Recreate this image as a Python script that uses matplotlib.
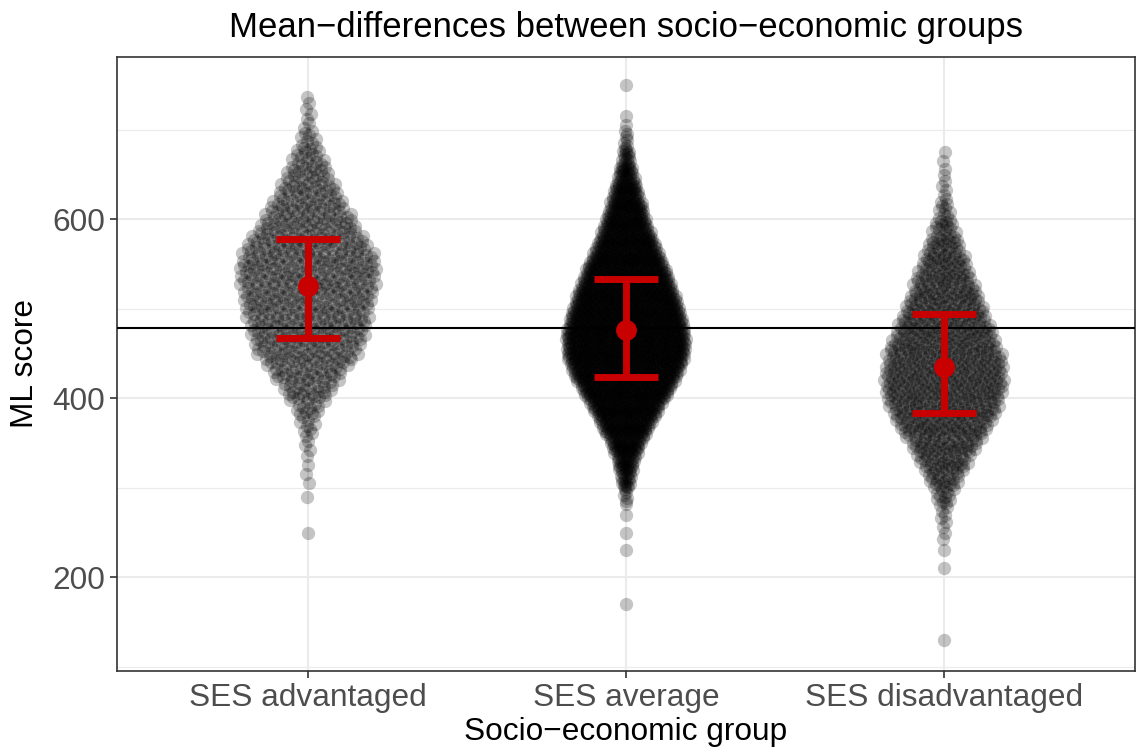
import numpy as np
import matplotlib.pyplot as plt

plt.rcParams['font.family'] = ['Liberation Sans', 'DejaVu Sans']

groups = ['SES advantaged', 'SES average', 'SES disadvantaged']

bin_centers = np.arange(130, 751, 20)
counts_adv = [0, 0, 0, 0, 0, 0, 1, 0, 1, 2, 2, 4, 8, 15, 28, 40, 55, 62, 66, 70, 74, 75,
              68, 55, 44, 34, 25, 17, 9, 4, 3, 0]
counts_avg = [0, 0, 1, 0, 0, 1, 1, 1, 6, 20, 35, 60, 95, 130, 170, 205, 228, 230, 215, 195,
              170, 145, 115, 88, 68, 50, 30, 15, 6, 2, 0, 1]
counts_dis = [1, 0, 0, 0, 1, 1, 3, 5, 12, 24, 38, 52, 70, 82, 90, 90, 86, 76, 65, 55, 45,
              36, 26, 17, 9, 4, 3, 2, 0, 0, 0, 0]

# group means and +/- 1 SD bars
means = [526, 476, 435]
lower = [467, 424, 384]
upper = [578, 533, 494]
grand_mean = 479


def vdc(n, base=2):
    v, denom = 0.0, 1.0
    while n:
        denom *= base
        n, r = divmod(n, base)
        v += r / denom
    return v


def quasirandom(counts, pos, width):
    counts = np.array(counts)
    ys = []
    for c, n in zip(bin_centers, counts):
        for i in range(n):
            ys.append(c - 10 + (i + 0.5) * 20 / n)
    ys = np.array(ys)
    dens = np.interp(ys, bin_centers, counts) / counts.max()
    xs = np.array([(vdc(i + 1) * 2 - 1) for i in range(len(ys))]) * width * dens
    return pos + xs, ys


fig = plt.figure(figsize=(11.37, 7.53), dpi=100)
ax = fig.add_axes([0.1029, 0.1089, 0.8953, 0.8158])

widths = [0.22, 0.19, 0.19]
for k, cnt in enumerate([counts_adv, counts_avg, counts_dis]):
    x, y = quasirandom(cnt, k + 1, widths[k])
    ax.scatter(x, y, s=92, color='black', alpha=0.23, linewidths=0, zorder=3)

ax.axhline(grand_mean, color='black', lw=1.5, zorder=4)

red = '#C80000'
for k in range(3):
    ax.plot([k + 1, k + 1], [lower[k], upper[k]], color=red, lw=5, solid_capstyle='butt', zorder=5)
    ax.plot([k + 0.9, k + 1.1], [lower[k], lower[k]], color=red, lw=5, solid_capstyle='butt', zorder=5)
    ax.plot([k + 0.9, k + 1.1], [upper[k], upper[k]], color=red, lw=5, solid_capstyle='butt', zorder=5)
    ax.plot(k + 1, means[k], 'o', color=red, ms=14, zorder=6)

ax.set_xlim(0.4, 3.6)
ax.set_ylim(95.3, 781.7)
ax.set_xticks([1, 2, 3])
ax.set_xticklabels(groups)
ax.set_yticks([200, 400, 600])
ax.set_yticks([100, 300, 500, 700], minor=True)
ax.grid(True, which='major', color='#EBEBEB', lw=1.5, zorder=0)
ax.grid(True, which='minor', axis='y', color='#EBEBEB', lw=0.8, zorder=0)
ax.set_axisbelow(True)
ax.tick_params(axis='both', which='major', labelsize=22.8, labelcolor='#4D4D4D', color='#333333',
               length=5, width=1.2)
ax.tick_params(axis='y', which='minor', length=0)
for s in ax.spines.values():
    s.set_color('#333333')
    s.set_linewidth(1.2)

ax.set_xlabel('Socio\u2212economic group', fontsize=22.8, labelpad=3)
ax.set_ylabel('ML score', fontsize=22.8, labelpad=9)
ax.set_title('Mean\u2212differences between socio\u2212economic groups', fontsize=25, pad=14)

fig.savefig('out.png', dpi=100)
